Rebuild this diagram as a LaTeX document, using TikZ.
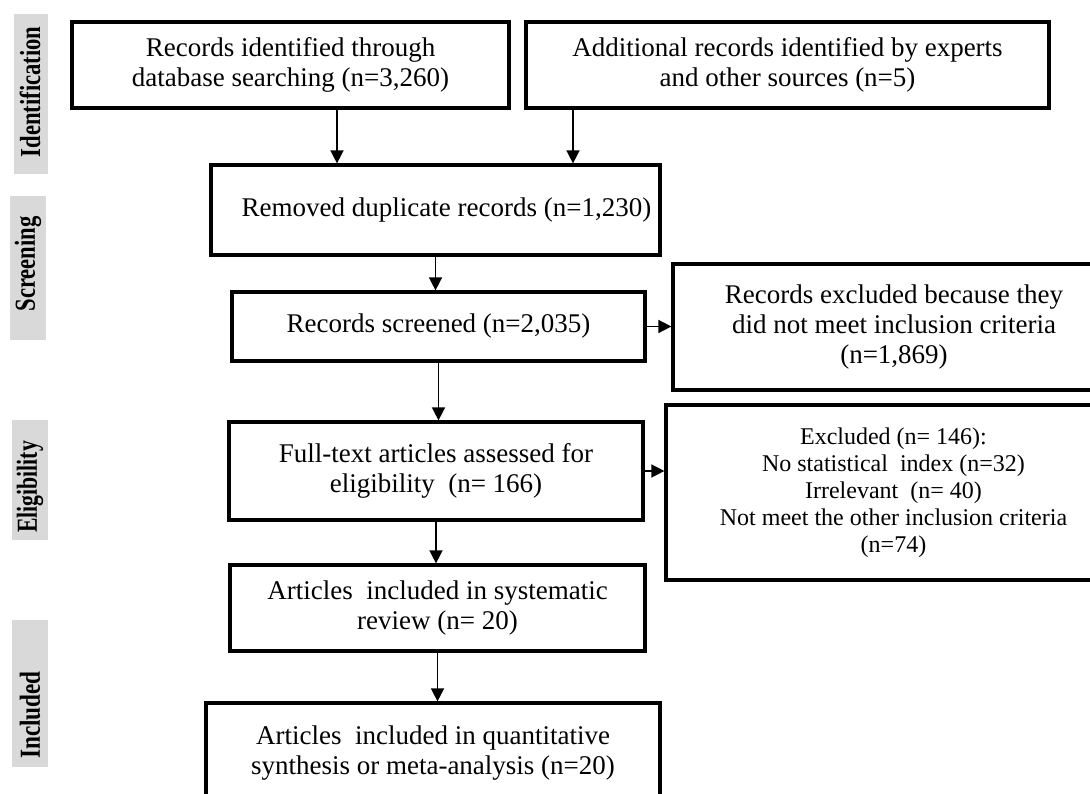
\documentclass[tikz,border=0pt]{standalone}
\usepackage{fontspec}
\setmainfont{Liberation Serif}
\usetikzlibrary{arrows.meta, positioning}
\definecolor{phasegray}{RGB}{217,217,217}

\begin{document}
\begin{tikzpicture}[x=1pt, y=-1pt,
    box/.style={draw, line width=3.2pt, align=center, inner sep=2pt,
        font=\fontsize{27}{30}\selectfont},
    exbox/.style={box, font=\fontsize{24}{27}\selectfont},
    phasebar/.style={fill=phasegray, inner sep=0pt},
    phaselabel/.style={rotate=90, inner sep=0pt,
        font=\fontsize{29}{30}\selectfont\bfseries},
    arr/.style={-{Triangle[width=13pt, length=13pt]}, line width=1.5pt}]
    \useasboundingbox (0,0) rectangle (1090,794);
    \fill[white] (0,0) rectangle (1090,794);
    \clip (0,0) rectangle (1090,794);

    % phase bars on the left
    \node[phasebar, minimum width=34, minimum height=160] (idb) at (31,94) {};
    \node[phasebar, minimum width=36, minimum height=144] (scb) at (28,268) {};
    \node[phasebar, minimum width=36, minimum height=120] (elb) at (30,480) {};
    \node[phasebar, minimum width=36, minimum height=147] (inb) at (30,693.5) {};
    \node[phaselabel] (idl) at (30,92) {\scalebox{0.78}[1]{Identification}};
    \node[phaselabel] (scl) at (28,264) {\scalebox{0.78}[1]{Screening}};
    \node[phaselabel] (ell) at (30,487) {\scalebox{0.75}[1]{Eligibility}};
    \node[phaselabel] (inl) at (30,715) {\scalebox{0.8}[1]{Included}};

    % flow boxes
    \node[box, minimum width=437, minimum height=86] (dbs) at (290.5,65)
        {Records identified through\\database searching (n=3,260)};
    \node[box, minimum width=523, minimum height=86] (oth) at (787.5,65)
        {Additional records identified by experts\\and other sources (n=5)};
    \node[box, minimum width=449, minimum height=90] (dup) at (435.5,210)
        {\hspace*{22pt}Removed duplicate records (n=1,230)};
    \node[box, minimum width=413, minimum height=69] (scr) at (438.5,326.5)
        {Records screened (n=2,035)};
    \node[box, minimum width=442, minimum height=126] (exc) at (894,327)
        {Records excluded because they\\did not meet inclusion criteria\\(n=1,869)};
    \node[box, minimum width=414, minimum height=98] (ful) at (436,471)
        {Full-text articles assessed for\\eligibility~ (n= 166)};
    \node[exbox, minimum width=455, minimum height=175] (exf) at (893.5,492.5)
        {Excluded (n= 146):\\No statistical~ index (n=32)\\Irrelevant~ (n= 40)\\Not meet the other inclusion criteria\\(n=74)};
    \node[box, minimum width=415, minimum height=86] (sys) at (437.5,608)
        {Articles~ included in systematic\\review (n= 20)};
    \node[box, minimum width=454, minimum height=100] (qua) at (433,753)
        {Articles~ included in quantitative\\synthesis or meta-analysis (n=20)};

    % connectors
    \draw[arr] ([xshift=46.5pt]dbs.south) -- ([xshift=46.5pt]dbs.south |- dup.north);
    \draw[arr] ([xshift=-214.5pt]oth.south) -- ([xshift=-214.5pt]oth.south |- dup.north);
    \draw[arr] (dup.south) -- (dup.south |- scr.north);
    \draw[arr] (scr.east) -- (scr.east -| exc.west);
    \draw[arr] (scr.south) -- (scr.south |- ful.north);
    \draw[arr] (ful.east) -- (ful.east -| exf.west);
    \draw[arr] (ful.south) -- (ful.south |- sys.north);
    \draw[arr] (sys.south) -- (sys.south |- qua.north);
\end{tikzpicture}
\end{document}
